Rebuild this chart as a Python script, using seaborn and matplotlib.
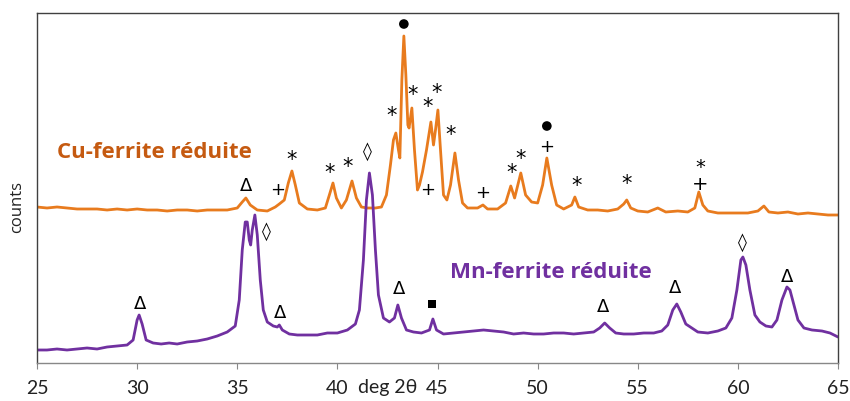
import matplotlib
matplotlib.use("Agg")
import matplotlib.pyplot as plt
import seaborn as sns
import pandas as pd

# ---- data ----
cu_x = [25.0, 25.5, 26.0, 26.5, 27.0, 27.5, 28.0, 28.5, 29.0, 29.5, 30.0, 30.5, 31.0, 31.5,
        32.0, 32.5, 33.0, 33.5, 34.0, 34.5, 35.0, 35.25, 35.43, 35.65, 36.0, 36.5, 36.9,
        37.1, 37.35, 37.55, 37.73, 37.9, 38.1, 38.5, 39.0, 39.4, 39.6, 39.78, 39.95, 40.2,
        40.45, 40.73, 40.95, 41.2, 41.5, 41.9, 42.2, 42.45, 42.65, 42.8, 42.92, 43.05,
        43.12, 43.22, 43.32, 43.42, 43.52, 43.58, 43.72, 43.85, 44.0, 44.1, 44.25, 44.45,
        44.67, 44.8, 44.9, 45.02, 45.15, 45.3, 45.47, 45.65, 45.87, 46.05, 46.25, 46.5,
        47.0, 47.27, 47.5, 48.0, 48.4, 48.66, 48.85, 49.16, 49.4, 49.7, 50.0, 50.25, 50.46,
        50.7, 50.95, 51.3, 51.7, 51.86, 52.05, 52.5, 53.0, 53.5, 54.0, 54.3, 54.45, 54.65,
        55.0, 55.5, 56.0, 56.4, 57.0, 57.5, 57.85, 58.05, 58.25, 58.5, 59.0, 59.5, 60.0,
        60.5, 61.0, 61.3, 61.55, 62.0, 62.5, 63.0, 63.5, 64.0, 64.5, 65.0]
cu_y = [156, 155, 156, 155, 154, 154, 154, 153, 154, 153, 154, 153, 153, 152,
        153, 153, 152, 153, 153, 153, 155, 161, 165, 158, 153, 152, 156,
        159, 163, 180, 192, 178, 160, 154, 153, 155, 168, 180, 165, 155,
        163, 182, 165, 156, 155, 155, 156, 168, 198, 223, 230, 213,
        205, 283, 327, 288, 238, 235, 255, 213, 173, 178, 191, 213,
        241, 218, 233, 253, 213, 168, 163, 178, 210, 183, 160, 155,
        155, 158, 154, 154, 160, 177, 165, 190, 168, 161, 160, 178, 205,
        178, 158, 154, 158, 166, 156, 153, 153, 152, 154, 159, 163, 155,
        152, 151, 155, 151, 152, 151, 155, 171, 158, 152, 150, 150, 150,
        150, 152, 157, 151, 150, 151, 149, 150, 149, 148, 148]

mn_x = [25.0, 25.5, 26.0, 26.5, 27.0, 27.5, 28.0, 28.5, 29.0, 29.5, 29.8, 30.0, 30.1,
        30.25, 30.45, 30.8, 31.2, 31.6, 32.0, 32.5, 33.0, 33.5, 34.0, 34.5, 34.9, 35.1,
        35.25, 35.4, 35.5, 35.6, 35.67, 35.75, 35.88, 36.0, 36.15, 36.3, 36.5, 36.8, 37.0,
        37.1, 37.25, 37.6, 38.0, 38.5, 39.0, 39.5, 40.0, 40.5, 40.9, 41.1, 41.3, 41.45,
        41.6, 41.75, 41.9, 42.05, 42.3, 42.6, 42.85, 43.02, 43.2, 43.45, 43.8, 44.2, 44.6,
        44.77, 44.95, 45.3, 45.8, 46.3, 46.8, 47.3, 47.8, 48.3, 48.8, 49.3, 49.8, 50.3,
        50.8, 51.3, 51.8, 52.3, 52.8, 53.1, 53.35, 53.6, 53.9, 54.3, 54.8, 55.3, 55.8,
        56.2, 56.5, 56.75, 56.95, 57.15, 57.4, 57.7, 58.0, 58.5, 59.0, 59.4, 59.7, 59.95,
        60.15, 60.25, 60.4, 60.6, 60.85, 61.1, 61.4, 61.7, 61.95, 62.2, 62.45, 62.6, 62.8,
        63.0, 63.3, 63.7, 64.2, 64.6, 65.0]
mn_y = [13, 13, 14, 13, 14, 15, 14, 16, 17, 18, 23, 43, 48,
        39, 23, 20, 19, 20, 19, 21, 22, 24, 27, 31, 37, 63,
        113, 141, 141, 123, 118, 133, 148, 128, 83, 53, 41, 37, 36,
        38, 33, 29, 28, 28, 28, 30, 30, 33, 39, 53, 103, 163,
        190, 168, 113, 68, 45, 41, 45, 58, 45, 33, 31, 30, 33,
        44, 33, 29, 30, 31, 32, 33, 32, 31, 29, 30, 29, 29,
        30, 30, 29, 30, 31, 35, 40, 35, 30, 29, 29, 30, 30,
        32, 38, 53, 59, 51, 39, 35, 31, 30, 32, 35, 45, 73,
        103, 106, 98, 73, 48, 41, 37, 36, 43, 63, 76, 73, 58,
        43, 35, 33, 32, 30, 26]

# peak annotation symbols drawn as text
sym_x = [35.43, 37.03, 37.7, 39.6, 40.53, 42.72, 43.77, 44.52, 44.97, 45.67,
         44.52, 47.27, 48.71, 49.16, 50.46, 51.96, 54.45, 58.1,
         30.14, 36.48, 37.13, 41.52, 43.07, 53.26, 56.85, 60.25, 62.44]
sym_y = [177, 173, 203, 190, 196, 247, 268, 256, 270, 228,
         173, 170, 190, 204, 216, 177, 179, 187,
         59, 131, 50, 211, 74, 56, 75, 120, 86]
sym_s = ["Δ", "+", "*", "*", "*", "*", "*", "*", "*", "*",
         "+", "+", "*", "*", "+", "*", "*", "*\n+",
         "Δ", "◊", "Δ", "◊", "Δ", "Δ", "Δ", "◊", "Δ"]
# filled-shape annotations (● and ■)
dot_x = [43.32, 50.46]
dot_y = [339, 237]
square_x = [44.72]
square_y = [59]

x_ticks = [25, 30, 35, 40, 45, 50, 55, 60, 65]

cu_label = "Cu-ferrite réduite"
mn_label = "Mn-ferrite réduite"

# ---- plot ----
sns.set_theme(style="white")
plt.rcParams["font.family"] = ["Open Sans", "DejaVu Sans"]

orange = "#E87B1E"
purple = "#7030A0"
orange_txt = "#C55A11"

fig = plt.figure(figsize=(8.5, 4.01), dpi=100)
ax = fig.add_axes([37 / 850, 1 - 363 / 401, (838 - 37) / 850, (363 - 13) / 401])

df_cu = pd.DataFrame({"x": cu_x, "y": cu_y})
df_mn = pd.DataFrame({"x": mn_x, "y": mn_y})
sns.lineplot(data=df_cu, x="x", y="y", ax=ax, color=orange, linewidth=2.0)
sns.lineplot(data=df_mn, x="x", y="y", ax=ax, color=purple, linewidth=2.0)

sns.scatterplot(x=dot_x, y=dot_y, ax=ax, marker="o", s=48, color="black",
                edgecolor="none", legend=False)
sns.scatterplot(x=square_x, y=square_y, ax=ax, marker="s", s=30, color="black",
                edgecolor="none", legend=False)

ax.set_xlim(25, 65)
ax.set_ylim(0, 350)
ax.set_xticks(x_ticks)
ax.set_xticklabels([str(t) for t in x_ticks], fontsize=14, color="#222222",
                   family=["Lato", "DejaVu Sans"])
ax.set_yticks([])
ax.tick_params(axis="x", which="major", direction="out", length=4, width=0.8,
               color="#888888", pad=8.5, bottom=True)
ax.set_xlabel("")
ax.set_ylabel("counts", fontsize=12, color="#222222")
ax.yaxis.set_label_coords(-0.015, (363 - 207) / 350)

for sp in ax.spines.values():
    sp.set_color("#404040")
    sp.set_linewidth(1.0)
ax.spines["bottom"].set_color("#888888")

# x-axis title placed between tick labels
ax.text(42.5, (363 - 388) / 350, "deg 2θ", transform=ax.get_xaxis_transform(),
        ha="center", va="center", fontsize=14, color="#222222",
        family=["Lato", "DejaVu Sans"])

for x, y, s in zip(sym_x, sym_y, sym_s):
    fs = 13
    if s == "*":
        fs = 15
    elif "\n" in s:
        fs = 14
    ax.text(x, y, s, ha="center", va="center", fontsize=fs, color="black",
            family=["DejaVu Sans"], linespacing=0.9, multialignment="center")

ax.text(25 + (57 - 37) / 20.03, 363 - 153, cu_label, ha="left", va="center",
        fontsize=16, fontweight="bold", color=orange_txt)
ax.text(25 + (450 - 37) / 20.03, 363 - 273, mn_label, ha="left", va="center",
        fontsize=16, fontweight="bold", color=purple)

fig.savefig("out.png", dpi=100)
